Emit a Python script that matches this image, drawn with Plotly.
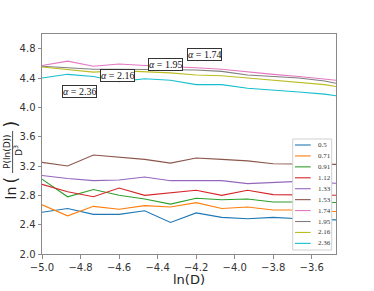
import plotly.graph_objects as go

# ---- data ----
ln_D = [-5.0, -4.867, -4.733, -4.6, -4.467, -4.333, -4.2, -4.067, -3.933, -3.8, -3.667, -3.533, -3.4]
alphas = ["0.5", "0.71", "0.91", "1.12", "1.33", "1.53", "1.74", "1.95", "2.16", "2.36"]
s_050 = [2.57, 2.62, 2.54, 2.54, 2.59, 2.43, 2.56, 2.50, 2.48, 2.50, 2.48, 2.47, 2.46]
s_071 = [2.67, 2.52, 2.65, 2.61, 2.66, 2.64, 2.70, 2.62, 2.64, 2.60, 2.60, 2.58, 2.58]
s_091 = [3.02, 2.78, 2.88, 2.80, 2.75, 2.68, 2.76, 2.74, 2.75, 2.71, 2.71, 2.70, 2.70]
s_112 = [2.95, 2.85, 2.78, 2.90, 2.80, 2.84, 2.87, 2.80, 2.87, 2.81, 2.81, 2.80, 2.80]
s_133 = [3.07, 3.03, 3.00, 3.01, 3.05, 3.00, 3.00, 3.00, 2.96, 2.98, 2.99, 2.97, 2.96]
s_153 = [3.25, 3.20, 3.35, 3.32, 3.29, 3.24, 3.31, 3.29, 3.27, 3.23, 3.23, 3.22, 3.22]
s_174 = [4.57, 4.63, 4.56, 4.59, 4.57, 4.56, 4.54, 4.52, 4.49, 4.45, 4.42, 4.39, 4.35]
s_195 = [4.56, 4.54, 4.52, 4.52, 4.52, 4.52, 4.51, 4.49, 4.44, 4.42, 4.40, 4.36, 4.29]
s_216 = [4.55, 4.52, 4.48, 4.50, 4.49, 4.47, 4.44, 4.43, 4.40, 4.37, 4.35, 4.31, 4.25]
s_236 = [4.40, 4.45, 4.42, 4.35, 4.39, 4.37, 4.31, 4.31, 4.26, 4.24, 4.21, 4.18, 4.13]
series = [s_050, s_071, s_091, s_112, s_133, s_153, s_174, s_195, s_216, s_236]
x_ticks = [-5.0, -4.8, -4.6, -4.4, -4.2, -4.0, -3.8, -3.6]
y_ticks = [2.0, 2.4, 2.8, 3.2, 3.6, 4.0, 4.4, 4.8]
label_text = ["α = 1.74", "α = 1.95", "α = 2.16", "α = 2.36"]
label_x = [-4.155, -4.357, -4.607, -4.807]
label_y = [4.72, 4.58, 4.43, 4.22]

colors = ["#1f77b4", "#ff7f0e", "#2ca02c", "#d62728", "#9467bd",
          "#8c564b", "#e377c2", "#7f7f7f", "#bcbd22", "#17becf"]

W, H = 374, 291
L, R, T, B = 42, 38, 34, 37
PW, PH = W - L - R, H - T - B

def px(x):
    return (x - L) / PW

def py(y):
    return (H - B - y) / PH

fig = go.Figure()
for name, vals, c in zip(alphas, series, colors):
    fig.add_trace(go.Scatter(x=ln_D, y=vals, mode="lines", name=name,
                             line=dict(color=c, width=1.1), showlegend=False,
                             hoverinfo="skip"))

annotations = []
shapes = []
serif = "Liberation Serif"
for t, x, y in zip(label_text, label_x, label_y):
    a, rest = t.split(" ", 1)
    annotations.append(dict(x=x, y=y, xref="x", yref="y", text="<i>" + a + "</i> " + rest,
                            xanchor="center", yanchor="middle",
                            showarrow=False, font=dict(family=serif, size=10, color="#111"),
                            bgcolor="white", bordercolor="#333", borderwidth=1, borderpad=0))

# custom legend
shapes.append(dict(type="rect", xref="paper", yref="paper",
                   x0=px(292.7), x1=px(331.7), y0=py(139), y1=py(250),
                   line=dict(color="#d0d0d0", width=1), fillcolor="white", layer="above"))
for i, (name, c) in enumerate(zip(alphas, colors)):
    yy = 145 + i * 10.93
    shapes.append(dict(type="line", xref="paper", yref="paper",
                       x0=px(295), x1=px(310.7), y0=py(yy), y1=py(yy),
                       line=dict(color=c, width=1.1), layer="above"))
    annotations.append(dict(x=px(315.5), y=py(yy), xref="paper", yref="paper", text=name,
                            xanchor="left", yanchor="middle", showarrow=False,
                            font=dict(family=serif, size=7, color="#333")))

# y-axis title ln( P(ln(D)) / D^3 )
sans = "DejaVu Sans"
ytitle_parts = [
    ("ln", 10.5, 193, 14),
    ("(", 10.5, 180, 17),
    ("P(ln(D))", 7.0, 152, 9),
    ("D<sup>3</sup>", 18.0, 151, 9),
    (")", 10.5, 124, 17),
]
for txt, xx, yy, fs in ytitle_parts:
    annotations.append(dict(x=px(xx), y=py(yy), text=txt, textangle=-90, showarrow=False,
                            xanchor="center", yanchor="middle",
                            xref="paper", yref="paper", font=dict(family=sans, size=fs, color="#222")))
shapes.append(dict(type="line", xref="paper", yref="paper",
                   x0=px(12.6), x1=px(12.6), y0=py(131), y1=py(173),
                   line=dict(color="#222", width=0.8)))

axis_common = dict(showgrid=False, zeroline=False, showline=True, mirror=True,
                   linecolor="#8a8a8a", linewidth=1, ticks="outside", ticklen=3.5,
                   tickcolor="#8a8a8a", automargin=False,
                   tickfont=dict(family=sans, size=10, color="#333"))

fig.update_layout(
    template="none",
    width=W, height=H,
    margin=dict(l=L, r=R, t=T, b=B),
    paper_bgcolor="white", plot_bgcolor="white",
    hovermode=False,
    xaxis=dict(range=[-5.0, -3.474], tickvals=x_ticks,
               ticktext=[f"{v:.1f}".replace("-", "\u2212") for v in x_ticks],
               title=dict(text="ln(D)", font=dict(family=sans, size=13, color="#222"), standoff=0),
               **axis_common),
    yaxis=dict(range=[2.0, 5.0], tickvals=y_ticks,
               ticktext=[f"{v:.1f}" for v in y_ticks], **axis_common),
    annotations=annotations,
    shapes=shapes,
)

fig.write_html("out.html", config={"displayModeBar": False},
               post_script="document.body.style.margin='0px';")
